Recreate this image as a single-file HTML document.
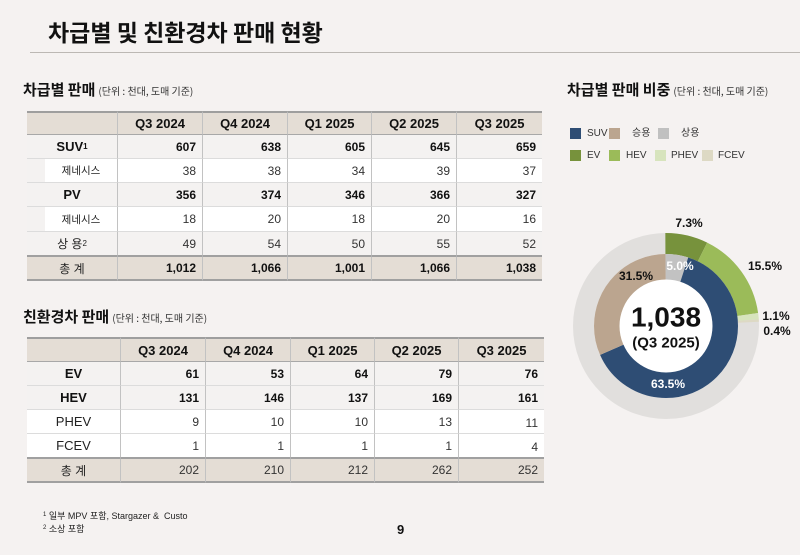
<!DOCTYPE html>
<html><head><meta charset="utf-8">
<style>
*{margin:0;padding:0;box-sizing:border-box}
body{width:800px;height:555px;background:#f5f2f1;position:relative;overflow:hidden;font-family:"Liberation Sans","Noto Sans CJK KR",sans-serif;color:#111}
.abs{position:absolute;white-space:nowrap}
.title{left:48px;top:16px;font-size:23px;font-weight:700;line-height:30px;font-family:"Noto Sans CJK KR",sans-serif;color:#111}
.hline{left:30px;top:52px;width:770px;height:1px;background:#bcb8b4}
.sec{font-size:15px;font-weight:700;line-height:18px;font-family:"Noto Sans CJK KR",sans-serif}
.sec span{font-size:10px;font-weight:400;color:#333;margin-left:3px}
.grid{position:absolute;display:grid}
.c{display:flex;align-items:center;justify-content:flex-end;padding-right:6px;font-size:12px;border-right:1px solid #c2c2c2;border-bottom:1px solid #dcdcdc;color:#333}
.c.last{border-right:none}
.h{background:#e4ddd5;justify-content:center;padding:0;font-weight:700;font-size:13px;color:#111;border-top:2px solid #9e9e9e;border-bottom:1px solid #a8a8a8}
.lbl{justify-content:center;padding:0;font-family:"Liberation Sans","Noto Sans CJK KR",sans-serif}
.b{font-weight:700;color:#111}
.w{background:#fff}
.g{background:#f4f2f1}
.t{background:#e4ddd5;border-top:1px solid #a0a0a0;border-bottom:2px solid #a0a0a0}
.sub{font-size:10.5px;color:#222}
.ind{position:relative;background:#f4f2f1}
.ind .in{position:absolute;left:18px;top:0;right:0;bottom:0;background:#fff;display:flex;align-items:center;justify-content:center}
sup{font-size:8px;vertical-align:5px;line-height:0}
.sq{position:absolute;width:11px;height:11px}
.lg{position:absolute;font-size:10px;line-height:12px;color:#333;font-family:"Liberation Sans","Noto Sans CJK KR",sans-serif}
.fn{font-size:9px;color:#222;line-height:12px;font-family:"Liberation Sans","Noto Sans CJK KR",sans-serif}
</style></head><body>
<div class="abs title">차급별 및 친환경차 판매 현황</div>
<div class="abs hline"></div>

<div class="abs sec" style="left:23px;top:81px">차급별 판매<span>(단위 : 천대, 도매 기준)</span></div>

<div class="grid" style="left:27px;top:111px;grid-template-columns:91px 85px 85px 84px 85px 85px;grid-template-rows:24px 24px 24px 24px 25px 24px 25px">
<div class="c h"></div><div class="c h">Q3 2024</div><div class="c h">Q4 2024</div><div class="c h">Q1 2025</div><div class="c h">Q2 2025</div><div class="c h last">Q3 2025</div>
<div class="c g lbl b" style="font-size:13px">SUV<sup>1</sup></div><div class="c g b">607</div><div class="c g b">638</div><div class="c g b">605</div><div class="c g b">645</div><div class="c g b last">659</div>
<div class="c ind lbl"><div class="in sub">제네시스</div></div><div class="c w">38</div><div class="c w">38</div><div class="c w">34</div><div class="c w">39</div><div class="c w last">37</div>
<div class="c g lbl b" style="font-size:13px">PV</div><div class="c g b">356</div><div class="c g b">374</div><div class="c g b">346</div><div class="c g b">366</div><div class="c g b last">327</div>
<div class="c ind lbl"><div class="in sub">제네시스</div></div><div class="c w">18</div><div class="c w">20</div><div class="c w">18</div><div class="c w">20</div><div class="c w last">16</div>
<div class="c g lbl" style="font-size:12px;color:#222;border-bottom-color:#a0a0a0">상 용<sup>2</sup></div><div class="c g" style="border-bottom-color:#a0a0a0">49</div><div class="c g" style="border-bottom-color:#a0a0a0">54</div><div class="c g" style="border-bottom-color:#a0a0a0">50</div><div class="c g" style="border-bottom-color:#a0a0a0">55</div><div class="c g last" style="border-bottom-color:#a0a0a0">52</div>
<div class="c t lbl" style="color:#222">총 계</div><div class="c t b">1,012</div><div class="c t b">1,066</div><div class="c t b">1,001</div><div class="c t b">1,066</div><div class="c t b last">1,038</div>
</div>

<div class="abs sec" style="left:23px;top:308px">친환경차 판매<span>(단위 : 천대, 도매 기준)</span></div>

<div class="grid" style="left:27px;top:337px;grid-template-columns:94px 85px 85px 84px 84px 85px;grid-template-rows:25px 24px 24px 24px 24px 25px">
<div class="c h"></div><div class="c h">Q3 2024</div><div class="c h">Q4 2024</div><div class="c h">Q1 2025</div><div class="c h">Q2 2025</div><div class="c h last">Q3 2025</div>
<div class="c g lbl b" style="font-size:13px">EV</div><div class="c g b">61</div><div class="c g b">53</div><div class="c g b">64</div><div class="c g b">79</div><div class="c g b last">76</div>
<div class="c g lbl b" style="font-size:13px">HEV</div><div class="c g b">131</div><div class="c g b">146</div><div class="c g b">137</div><div class="c g b">169</div><div class="c g b last">161</div>
<div class="c w lbl" style="font-size:13px;color:#222">PHEV</div><div class="c w">9</div><div class="c w">10</div><div class="c w">10</div><div class="c w">13</div><div class="c w last" style="padding-top:3px">11</div>
<div class="c w lbl" style="font-size:13px;color:#222;border-bottom-color:#a0a0a0">FCEV</div><div class="c w" style="border-bottom-color:#a0a0a0">1</div><div class="c w" style="border-bottom-color:#a0a0a0">1</div><div class="c w" style="border-bottom-color:#a0a0a0">1</div><div class="c w" style="border-bottom-color:#a0a0a0">1</div><div class="c w last" style="border-bottom-color:#a0a0a0;padding-top:3px">4</div>
<div class="c t lbl" style="color:#222">총 계</div><div class="c t">202</div><div class="c t">210</div><div class="c t">212</div><div class="c t">262</div><div class="c t last">252</div>
</div>

<div class="abs fn" style="left:43px;top:510px"><sup style="font-size:6px;vertical-align:3px">1</sup> 일부 MPV 포함, Stargazer &amp;&nbsp; Custo</div>
<div class="abs fn" style="left:43px;top:523px"><sup style="font-size:6px;vertical-align:3px">2</sup> 소상 포함</div>
<div class="abs" style="left:397px;top:522px;font-size:13px;font-weight:700;line-height:16px">9</div>

<div class="abs sec" style="left:567px;top:81px">차급별 판매 비중<span>(단위 : 천대, 도매 기준)</span></div>

<div class="sq" style="left:570px;top:128px;background:#2e4d74"></div><div class="lg" style="left:587px;top:128px">SUV</div>
<div class="sq" style="left:609px;top:128px;background:#bba58f"></div><div class="lg" style="left:632px;top:128px">승용</div>
<div class="sq" style="left:658px;top:128px;background:#c0c0c0"></div><div class="lg" style="left:681px;top:128px">상용</div>
<div class="sq" style="left:570px;top:150px;background:#77923c"></div><div class="lg" style="left:587px;top:150px">EV</div>
<div class="sq" style="left:609px;top:150px;background:#9bbb59"></div><div class="lg" style="left:626px;top:150px">HEV</div>
<div class="sq" style="left:655px;top:150px;background:#d7e4bd"></div><div class="lg" style="left:671px;top:150px">PHEV</div>
<div class="sq" style="left:702px;top:150px;background:#ddd9c4"></div><div class="lg" style="left:718px;top:150px">FCEV</div>

<svg class="abs" style="left:0;top:0" width="800" height="555" viewBox="0 0 800 555">
<g fill="none" transform="rotate(-90 666 326)">
<circle cx="666" cy="326" r="82.5" stroke="#e1dfdd" stroke-width="21"/>
<circle cx="666" cy="326" r="82.5" stroke="#77923c" stroke-width="21" pathLength="100" stroke-dasharray="7.3 92.7" stroke-dashoffset="0"/>
<circle cx="666" cy="326" r="82.5" stroke="#9bbb59" stroke-width="21" pathLength="100" stroke-dasharray="15.5 84.5" stroke-dashoffset="-7.3"/>
<circle cx="666" cy="326" r="82.5" stroke="#d7e4bd" stroke-width="21" pathLength="100" stroke-dasharray="1.1 98.9" stroke-dashoffset="-22.8"/>
<circle cx="666" cy="326" r="82.5" stroke="#ddd9c4" stroke-width="21" pathLength="100" stroke-dasharray="0.4 99.6" stroke-dashoffset="-23.9"/>
<circle cx="666" cy="326" r="59" stroke="#c2c2c2" stroke-width="26" pathLength="100" stroke-dasharray="5 95" stroke-dashoffset="0"/>
<circle cx="666" cy="326" r="59" stroke="#2e4d74" stroke-width="26" pathLength="100" stroke-dasharray="63.5 36.5" stroke-dashoffset="-5"/>
<circle cx="666" cy="326" r="59" stroke="#bba58f" stroke-width="26" pathLength="100" stroke-dasharray="31.5 68.5" stroke-dashoffset="-68.5"/>
</g>
<circle cx="666" cy="326" r="46.5" fill="#fff"/>
<g font-family="Liberation Sans, sans-serif" font-weight="700" text-anchor="middle" dominant-baseline="central">
<text x="666" y="317" font-size="28" fill="#111">1,038</text>
<text x="666" y="343" font-size="15" fill="#111">(Q3 2025)</text>
<text x="689" y="223" font-size="12" fill="#111">7.3%</text>
<text x="765" y="266" font-size="12" fill="#111">15.5%</text>
<text x="776" y="316" font-size="12" fill="#111">1.1%</text>
<text x="777" y="331" font-size="12" fill="#111">0.4%</text>
<text x="680" y="266" font-size="12" fill="#fff">5.0%</text>
<text x="636" y="276" font-size="12" fill="#111">31.5%</text>
<text x="668" y="384" font-size="12" fill="#fff">63.5%</text>
</g>
</svg>
</body></html>
